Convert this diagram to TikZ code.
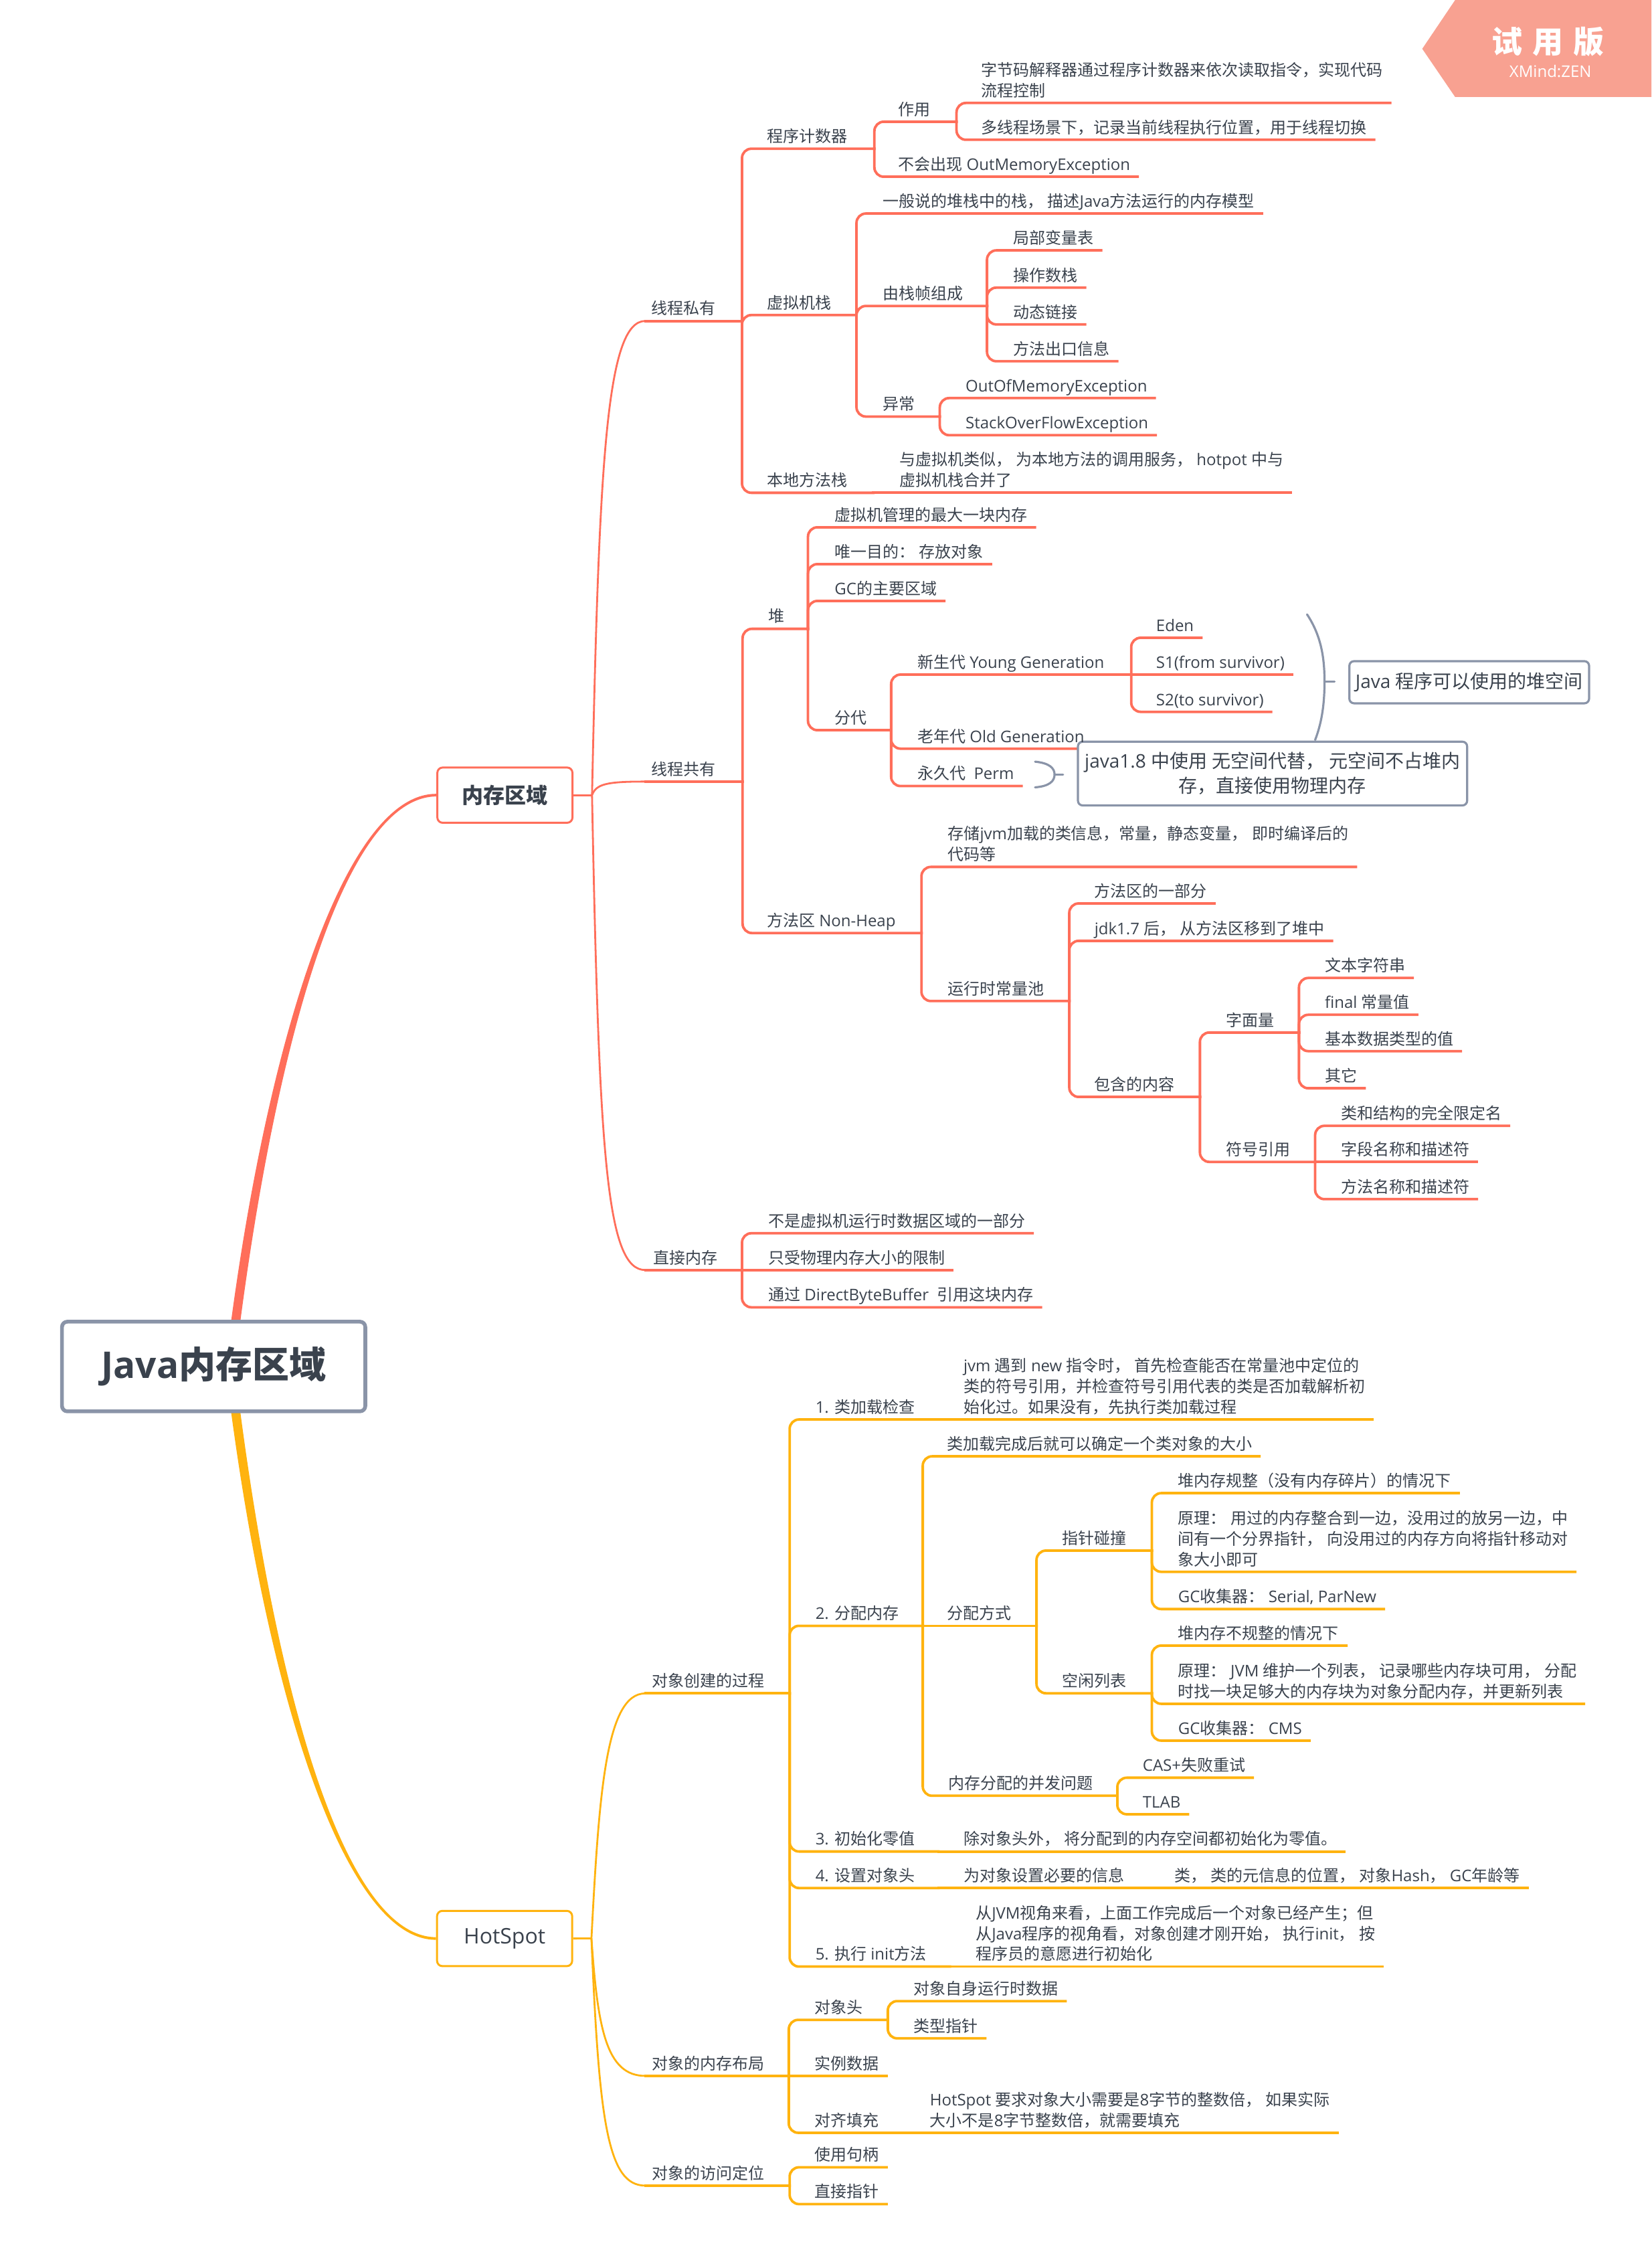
\documentclass[tikz,border=0pt]{standalone}
\usepackage{fontspec}
\setmainfont{Open Sans}
\newfontfamily\cjkfont{Noto Sans CJK SC}
\usetikzlibrary{calc}

% CJK characters switch to the CJK family automatically
\XeTeXinterchartokenstate=1
\chardef\cjkcls=11
\newcount\cjkc
\def\setcjkrange#1#2{\cjkc=#1\relax
  \loop\XeTeXcharclass\cjkc=\cjkcls\relax\advance\cjkc by 1\relax
  \ifnum\cjkc<#2\relax\repeat}
\setcjkrange{"3000}{"3040}
\setcjkrange{"4E00}{"A000}
\setcjkrange{"FF00}{"FFF0}
\XeTeXinterchartoks 0 \cjkcls = {\begingroup\cjkfont}
\XeTeXinterchartoks 4095 \cjkcls = {\begingroup\cjkfont}
\XeTeXinterchartoks \cjkcls 0 = {\endgroup}
\XeTeXinterchartoks \cjkcls 4095 = {\endgroup}

\definecolor{cred}{HTML}{FF6E5A}
\definecolor{corange}{HTML}{FFB30F}
\definecolor{cgray}{HTML}{8A94A8}
\definecolor{ctext}{HTML}{3A424D}
\definecolor{cwm}{HTML}{F8A191}
\colorlet{brc}{cred}

\pgfdeclarelayer{bg}
\pgfsetlayers{bg,main}

\tikzset{
  tp/.style={anchor=south west, inner sep=0pt, align=left, text=ctext,
    font=\fontsize{12}{15.4}\selectfont},
  br/.style={draw=brc, line width=1.9pt, rounded corners=7pt, line cap=rect},
  l1/.style={line width=1.4pt},
  brace/.style={draw=cgray, line width=1.6pt, line cap=round},
  callout/.style={draw=cgray, line width=1.6pt, rounded corners=3.5pt, fill=white,
    text=ctext, font=\fontsize{14}{18.3}\selectfont, align=center, inner sep=0pt},
  rootbox/.style={draw=cgray, line width=2.8pt, rounded corners=4pt, fill=white,
    text=ctext, font=\fontsize{27.5}{33}\selectfont\bfseries, inner sep=0pt,
    minimum width=226.7pt, minimum height=67pt},
  mainbox/.style={line width=1.5pt, rounded corners=4pt, fill=white, text=ctext,
    font=\fontsize{16}{19}\selectfont, inner sep=0pt,
    minimum width=101pt, minimum height=41.3pt}
}

% topic helpers: leaf ends just past its text, inner topic ends at its fork
\newcommand\tleaf[4]{\node[tp] (#1) at (#2,#3) {#4\strut};
  \coordinate (#1-e) at ([xshift=5.4pt]#1.south east);}
\newcommand\tmid[5]{\node[tp] (#1) at (#2,#3) {#5\strut};
  \coordinate (#1-e) at (#4,#3);}
\newcommand\lk[2]{\draw[br] (#1-e) |- (#2-e);}
\newcommand\lks[2]{\draw[br] (#1-e) -- (#2-e);}
\newcommand\lkstart[1]{\draw[br] (#1-s) -- (#1-e);}

\begin{document}
\begin{tikzpicture}[x=1.079pt, y=-1.079pt]
\useasboundingbox (0,0) rectangle (1144,1568);

% trial badge
\fill[cwm] (1008,0) -- (985.2,33.8) -- (1008,67.2) -- (1144,67.2) -- (1144,0) -- cycle;
\node[text=white, font=\fontsize{23}{25}\selectfont\bfseries, inner sep=0pt] (wmt)
  at (1072.5,29) {试\hspace{7.5pt}用\hspace{7.5pt}版};
\node[text=white, font=\fontsize{12}{14}\selectfont, inner sep=0pt] (wms)
  at (1074,49.6) {XMind:ZEN};

% callouts
\node[callout, minimum width=179.2pt, minimum height=31.5pt] (heapbox)
  at (1017.75,472.5) {Java 程序可以使用的堆空间};
\node[callout, minimum width=290.9pt, minimum height=47.6pt] (metabox)
  at (881.5,535.75) {java1.8 中使用 无空间代替， 元空间不占堆内\\存，直接使用物理内存};

% central and main topics
\node[rootbox] (root) at (148,946.4) {Java内存区域};
\node[mainbox, draw=cred] (mem) at (349.75,550.7) {\bfseries 内存区域};
\node[mainbox, draw=corange] (hot) at (349.55,1342.55) {HotSpot};

% ---- 内存区域 ----
\tmid{tsy}{451}{222.3}{514}{线程私有}
\tmid{pc}{531}{103}{605.7}{程序计数器}
\tmid{pcuse}{622}{84.3}{662.6}{作用}
\tleaf{pcu1}{679.6}{71.3}{字节码解释器通过程序计数器来依次读取指令，实现代码\\流程控制}
\tleaf{pcu2}{679.6}{96.8}{多线程场景下，记录当前线程执行位置，用于线程切换}
\tleaf{pcno}{622}{122.4}{不会出现 OutMemoryException}
\tmid{vms}{531}{218.2}{593.3}{虚拟机栈}
\tleaf{vms1}{611.4}{147.9}{一般说的堆栈中的栈， 描述Java方法运行的内存模型}
\tmid{frame}{611.4}{211.9}{683.7}{由栈帧组成}
\tleaf{fr1}{701.8}{173.4}{局部变量表}
\tleaf{fr2}{701.8}{199.2}{操作数栈}
\tleaf{fr3}{701.8}{224.7}{动态链接}
\tleaf{fr4}{701.8}{250.2}{方法出口信息}
\tmid{exc}{611.4}{288.5}{651}{异常}
\tleaf{exc1}{668.7}{275.7}{OutOfMemoryException}
\tleaf{exc2}{668.7}{301.4}{StackOverFlowException}
\tmid{nms}{531}{341.3}{605}{本地方法栈}
\tleaf{nms1}{622.8}{341.3}{与虚拟机类似， 为本地方法的调用服务， hotpot 中与\\虚拟机栈合并了}

\tmid{tsh}{451}{541.3}{514.4}{线程共有}
\tmid{heap}{532}{435.5}{559.7}{堆}
\tleaf{h1}{578}{365.2}{虚拟机管理的最大一块内存}
\tleaf{h2}{578}{390.7}{唯一目的： 存放对象}
\tleaf{h3}{578}{416.2}{GC的主要区域}
\tmid{gen}{578}{505.7}{617.3}{分代}
\tmid{young}{635.3}{467.2}{783.6}{新生代 Young Generation}
\tleaf{eden}{800.7}{441.7}{Eden}
\tleaf{s1}{800.7}{467.2}{S1(from survivor)}
\tleaf{s2}{800.7}{493}{S2(to survivor)}
\tleaf{perm}{635.3}{544.4}{永久代~ Perm}
\tmid{mth}{531}{646.2}{638.3}{方法区 Non-Heap}
\tleaf{mth1}{656.4}{600.4}{存储jvm加载的类信息，常量，静态变量， 即时编译后的\\代码等}
\tmid{rcp}{656.4}{693.3}{740.7}{运行时常量池}
\tleaf{rcp1}{758}{625.7}{方法区的一部分}
\tleaf{rcp2}{758}{651.6}{jdk1.7 后， 从方法区移到了堆中}
\tmid{cont}{758}{759.7}{831.2}{包含的内容}
\tmid{lit}{849.3}{715.1}{899.8}{字面量}
\tleaf{lit1}{917.6}{677.3}{文本字符串}
\tleaf{lit2}{917.6}{702.8}{final 常量值}
\tleaf{lit3}{917.6}{728}{基本数据类型的值}
\tleaf{lit4}{917.6}{753.7}{其它}
\tmid{sym}{849.3}{804.7}{911}{符号引用}
\tleaf{sym1}{928.7}{779.7}{类和结构的完全限定名}
\tleaf{sym2}{928.7}{804.7}{字段名称和描述符}
\tleaf{sym3}{928.7}{830.5}{方法名称和描述符}

\tmid{dm}{452.2}{879.6}{514}{直接内存}
\tleaf{dm1}{532}{854.1}{不是虚拟机运行时数据区域的一部分}
\tleaf{dm2}{532}{879.6}{只受物理内存大小的限制}
\tleaf{dm3}{532}{905.4}{通过 DirectByteBuffer~ 引用这块内存}

% ---- HotSpot ----
\tmid{oc}{451.4}{1172.8}{547}{对象创建的过程}
\tmid{s1c}{564.7}{983.1}{650}{1. 类加载检查}
\tleaf{s1ct}{667.3}{983.1}{jvm 遇到 new 指令时， 首先检查能否在常量池中定位的\\类的符号引用，并检查符号引用代表的类是否加载解析初\\始化过。如果没有，先执行类加载过程}
\tmid{s2m}{564.7}{1126}{639.2}{2. 分配内存}
\tleaf{s2a}{655.7}{1008.6}{类加载完成后就可以确定一个类对象的大小}
\tmid{alloc}{655.7}{1126}{718}{分配方式}
\tmid{bump}{735.7}{1073.9}{797.9}{指针碰撞}
\tleaf{bump1}{816}{1034.1}{堆内存规整（没有内存碎片）的情况下}
\tleaf{bump2}{816}{1088.6}{原理： 用过的内存整合到一边，没用过的放另一边，中\\间有一个分界指针， 向没用过的内存方向将指针移动对\\象大小即可}
\tleaf{bump3}{816}{1114.4}{GC收集器： Serial, ParNew}
\tmid{free}{735.7}{1172.7}{797.9}{空闲列表}
\tleaf{free1}{816}{1139.7}{堆内存不规整的情况下}
\tleaf{free2}{816}{1180}{原理： JVM 维护一个列表， 记录哪些内存块可用， 分配\\时找一块足够大的内存块为对象分配内存，并更新列表}
\tleaf{free3}{816}{1205.5}{GC收集器： CMS}
\tmid{conc}{656.9}{1243.7}{774}{内存分配的并发问题}
\tleaf{cas}{791.4}{1231.2}{CAS+失败重试}
\tleaf{tlab}{791.4}{1256.5}{TLAB}
\tmid{s3}{564.7}{1282.3}{650}{3. 初始化零值}
\tleaf{s3t}{667.3}{1282.3}{除对象头外， 将分配到的内存空间都初始化为零值。}
\tmid{s4}{564.7}{1307.6}{650}{4. 设置对象头}
\tmid{s4a}{667.3}{1307.6}{796}{为对象设置必要的信息}
\tleaf{s4b}{813.3}{1307.6}{类， 类的元信息的位置， 对象Hash， GC年龄等}
\tmid{s5}{564.7}{1362}{658}{5. 执行 init方法}
\tleaf{s5t}{675.7}{1362}{从JVM视角来看，上面工作完成后一个对象已经产生；但\\从Java程序的视角看，对象创建才刚开始， 执行init， 按\\程序员的意愿进行初始化}
\tmid{lay}{451.4}{1437.7}{546.4}{对象的内存布局}
\tmid{hdr}{564.2}{1398.9}{615}{对象头}
\tleaf{hdr1}{632.6}{1385.9}{对象自身运行时数据}
\tleaf{hdr2}{632.6}{1411.7}{类型指针}
\tleaf{inst}{564.2}{1437.7}{实例数据}
\tmid{pad}{564.2}{1477.1}{626.5}{对齐填充}
\tleaf{padt}{644}{1477.1}{HotSpot 要求对象大小需要是8字节的整数倍， 如果实际\\大小不是8字节整数倍，就需要填充}
\tmid{acc}{451.4}{1513.7}{547}{对象的访问定位}
\tleaf{acc1}{564.2}{1501}{使用句柄}
\tleaf{acc2}{564.2}{1526.5}{直接指针}

% old generation label sits over the metaspace callout
\tleaf{old}{635.3}{518.5}{老年代 Old Generation}

\begin{pgfonlayer}{bg}
  % tapered trunks from the central topic
  \coordinate (rt) at (162.5,921);
  \coordinate (rb) at (162.5,972);
  \fill[cred] ($(rt)+(-3.2,0)$) .. controls ($(rt)+(24,-206.5)$) and ($(mem.west)+(-62.3,-1.3)$) ..
    ($(mem.west)+(0,-0.9)$) -- ($(mem.west)+(0,0.9)$) .. controls ($(mem.west)+(-62.3,1.3)$) and
    ($(rt)+(30,-206.5)$) .. ($(rt)+(3.2,0)$) -- cycle;
  \fill[corange] ($(rb)+(-3.2,0)$) .. controls ($(rb)+(24,207)$) and ($(hot.west)+(-62.3,1.3)$) ..
    ($(hot.west)+(0,0.9)$) -- ($(hot.west)+(0,-0.9)$) .. controls ($(hot.west)+(-62.3,-1.3)$) and
    ($(rb)+(30,207)$) .. ($(rb)+(3.2,0)$) -- cycle;

  % first-level curves, 内存区域
  \coordinate (memj) at (410.1,550.7);
  \coordinate (tsy-s) at (447,222.3);
  \coordinate (tsh-s) at (447,541.3);
  \coordinate (dm-s) at (447,879.6);
  \draw[l1, draw=cred] (mem.east) -- (memj);
  \draw[l1, draw=cred] (memj) .. controls (415,320) and (420,222.3) .. (tsy-s);
  \draw[l1, draw=cred] (memj) .. controls (413,543) and (420,541.3) .. (tsh-s);
  \draw[l1, draw=cred] (memj) .. controls (415,800) and (420,879.6) .. (dm-s);

  \colorlet{brc}{cred}
  \lkstart{tsy} \lkstart{tsh} \lkstart{dm}
  \lk{tsy}{pc} \lk{tsy}{vms} \lk{tsy}{nms}
  \lk{pc}{pcuse} \lk{pc}{pcno}
  \lk{pcuse}{pcu1} \lk{pcuse}{pcu2}
  \lk{vms}{vms1} \lk{vms}{frame} \lk{vms}{exc}
  \lk{frame}{fr1} \lk{frame}{fr2} \lk{frame}{fr3} \lk{frame}{fr4}
  \lk{exc}{exc1} \lk{exc}{exc2}
  \lks{nms}{nms1}
  \lk{tsh}{heap} \lk{tsh}{mth}
  \lk{heap}{h1} \lk{heap}{h2} \lk{heap}{h3} \lk{heap}{gen}
  \lk{gen}{young} \lk{gen}{old} \lk{gen}{perm}
  \lk{young}{eden} \lks{young}{s1} \lk{young}{s2}
  \lk{mth}{mth1} \lk{mth}{rcp}
  \lk{rcp}{rcp1} \lk{rcp}{rcp2} \lk{rcp}{cont}
  \lk{cont}{lit} \lk{cont}{sym}
  \lk{lit}{lit1} \lk{lit}{lit2} \lk{lit}{lit3} \lk{lit}{lit4}
  \lk{sym}{sym1} \lks{sym}{sym2} \lk{sym}{sym3}
  \lk{dm}{dm1} \lks{dm}{dm2} \lk{dm}{dm3}

  % first-level curves, HotSpot
  \coordinate (hotj) at (409.7,1342.5);
  \coordinate (oc-s) at (447,1172.8);
  \coordinate (lay-s) at (447,1437.7);
  \coordinate (acc-s) at (447,1513.7);
  \draw[l1, draw=corange] (hot.east) -- (hotj);
  \draw[l1, draw=corange] (hotj) .. controls (415,1240) and (420,1172.8) .. (oc-s);
  \draw[l1, draw=corange] (hotj) .. controls (414,1405) and (420,1437.7) .. (lay-s);
  \draw[l1, draw=corange] (hotj) .. controls (415,1470) and (421,1513.7) .. (acc-s);

  \colorlet{brc}{corange}
  \lkstart{oc} \lkstart{lay} \lkstart{acc}
  \lk{oc}{s1c} \lk{oc}{s2m} \lk{oc}{s3} \lk{oc}{s4} \lk{oc}{s5}
  \lks{s1c}{s1ct}
  \lk{s2m}{s2a} \lks{s2m}{alloc} \lk{s2m}{conc}
  \lk{alloc}{bump} \lk{alloc}{free}
  \lk{bump}{bump1} \lk{bump}{bump2} \lk{bump}{bump3}
  \lk{free}{free1} \lk{free}{free2} \lk{free}{free3}
  \lk{conc}{cas} \lk{conc}{tlab}
  \lks{s3}{s3t}
  \lks{s4}{s4a} \lks{s4a}{s4b}
  \lks{s5}{s5t}
  \lk{lay}{hdr} \lks{lay}{inst} \lk{lay}{pad}
  \lk{hdr}{hdr1} \lk{hdr}{hdr2}
  \lks{pad}{padt}
  \lk{acc}{acc1} \lk{acc}{acc2}

  % summary braces
  \draw[brace] (905.4,425.5) .. controls (915,440) and (917.5,455) .. (917.5,472)
    .. controls (917.5,490) and (915,502) .. (911,512.5);
  \draw[brace] (917.5,472) -- (924.5,472);
  \draw[brace] (717,527.5) .. controls (727,528.5) and (730.5,532) .. (730.5,536.4)
    .. controls (730.5,541) and (727,544.5) .. (717,545.3);
  \draw[brace] (730.5,536.4) -- (736.4,536.4);
\end{pgfonlayer}
\end{tikzpicture}
\end{document}
